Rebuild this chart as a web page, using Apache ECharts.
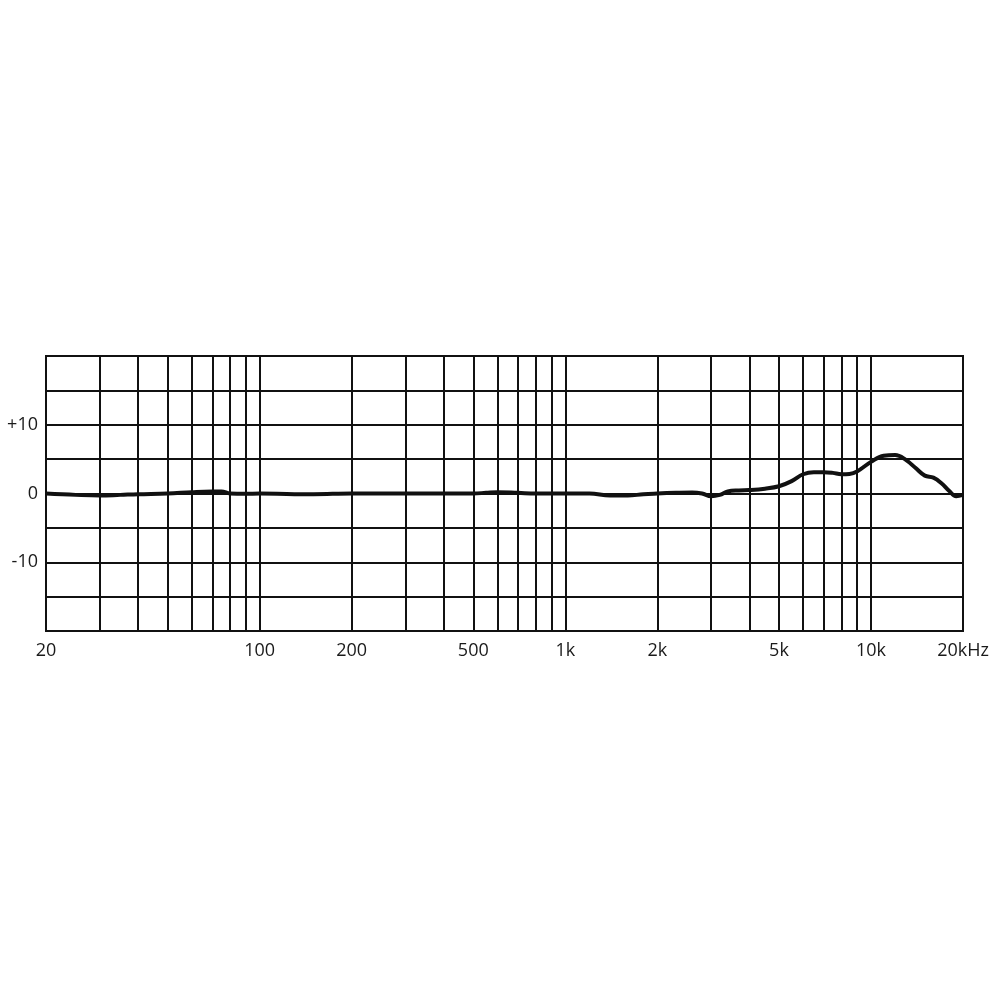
<!DOCTYPE html>
<html>
<head>
<meta charset="utf-8">
<script src="https://cdn.jsdelivr.net/npm/echarts@6/dist/echarts.min.js"></script>
<style>html,body{margin:0;padding:0;background:#fff;}#c{width:1000px;height:1000px;}</style>
</head>
<body>
<div id="c"></div>
<script>
// Frequency response (Hz -> dB)
var freqs = [20,25,30,35,40,50,60,70,75,80,90,100,130,150,200,300,400,500,550,600,700,800,1000,1200,1400,1600,1800,2000,2300,2600,2800,3000,3200,3400,3700,4000,4500,5000,5500,6000,6500,7000,7500,8000,8500,9000,10000,11000,12000,13000,14000,15000,16000,17000,18000,19000,20000];
var response = [0,-0.2,-0.3,-0.2,-0.1,0,0.2,0.3,0.3,0,-0.05,0,-0.1,-0.1,0,0,0,0,0.1,0.2,0.1,0,0,0,-0.3,-0.3,-0.1,0,0.1,0.15,0,-0.4,-0.2,0.3,0.45,0.5,0.7,1.05,1.8,2.8,3.1,3.1,3.0,2.8,2.85,3.2,4.6,5.5,5.6,4.9,3.7,2.6,2.3,1.5,0.4,-0.4,-0.2];
// Vertical grid lines (unlabelled)
var gridFreqs = [30,40,50,60,70,80,90,300,400,600,700,800,900,3000,4000,6000,7000,8000,9000];
// Labelled frequencies
var labelFreqs = [20,100,200,500,1000,2000,5000,10000,20000];
var labelTexts = ['20','100','200','500','1k','2k','5k','10k','20kHz'];
// Y-axis labels shown
var yLabelValues = [10,0,-10];
var yLabelTexts = ['+10','0','-10'];

var seriesData = freqs.map(function(f,i){ return [f, response[i]]; });
var lineStyleGrid = {color:'#111', width:2, type:'solid'};
var mlData = gridFreqs.map(function(f){ return {xAxis:f, label:{show:false}}; });
labelFreqs.forEach(function(f,i){
  mlData.push({xAxis:f, label:{show:true, position:'start', distance:11, formatter:labelTexts[i], color:'#1a1a1a', fontSize:18, fontFamily:'Open Sans'}});
});

var chart = echarts.init(document.getElementById('c'), null, {renderer:'canvas'});
chart.setOption({
  animation:false,
  backgroundColor:'#fff',
  grid:{left:46, right:37, top:356, bottom:369, show:true, borderColor:'#111', borderWidth:2, backgroundColor:'transparent'},
  xAxis:{type:'log', logBase:10, min:20, max:20000,
    axisLine:{show:false}, axisTick:{show:false}, axisLabel:{show:false}, splitLine:{show:false}, minorTick:{show:false}},
  yAxis:{type:'value', min:-20, max:20, interval:5,
    axisLine:{show:false}, axisTick:{show:false},
    axisLabel:{margin:8, color:'#1a1a1a', fontSize:18, fontFamily:'Open Sans',
      formatter:function(v){ var k = yLabelValues.indexOf(v); return k>=0 ? yLabelTexts[k] : ''; }},
    splitLine:{show:true, lineStyle:{color:'#111', width:2}}},
  series:[{
    type:'line', data:seriesData, smooth:0.4, showSymbol:false, symbol:'none', z:10,
    lineStyle:{color:'#111', width:4},
    markLine:{silent:true, symbol:['none','none'], z:1, animation:false,
      lineStyle:lineStyleGrid, emphasis:{disabled:true}, data:mlData}
  }]
});
</script>
</body>
</html>
